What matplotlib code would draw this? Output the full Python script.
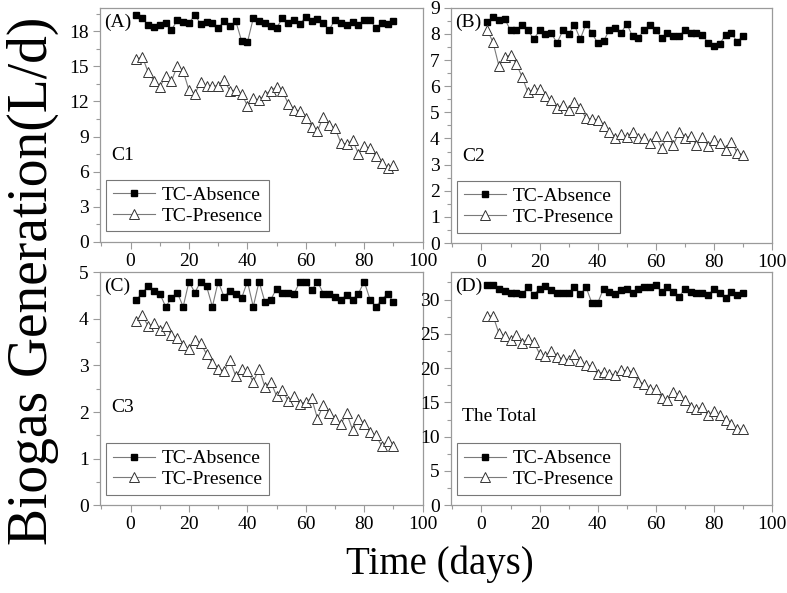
import matplotlib
matplotlib.use("Agg")
import matplotlib.pyplot as plt
from matplotlib.ticker import MultipleLocator

plt.rcParams['font.family'] = ['Liberation Serif', 'DejaVu Serif']
plt.rcParams['mathtext.fontset'] = 'stix'

days = list(range(2, 91, 2))

c1_absence = [19.38, 19.12, 18.52, 18.32, 18.52, 18.69, 18.11, 18.95, 18.8, 18.69,
              19.38, 18.6, 18.75, 18.69, 18.23, 18.9, 18.4, 18.87, 17.17, 17.05,
              19.09, 18.84, 18.66, 18.46, 18.29, 19.1, 18.69, 18.98, 18.6, 19.23,
              18.84, 19.04, 18.69, 18.11, 18.98, 18.69, 18.52, 18.75, 18.52, 18.98,
              18.98, 18.23, 18.69, 18.6, 18.84]
c1_presence = [15.59, 15.82, 14.5, 13.75, 13.24, 14.15, 13.75, 15.01, 14.58, 12.95,
               12.66, 13.64, 13.29, 13.29, 13.35, 13.81, 12.92, 12.95, 12.66, 11.63,
               12.29, 12.09, 12.58, 12.92, 13.24, 12.86, 11.8, 11.28, 11.2, 10.57,
               9.85, 9.47, 10.71, 9.97, 9.71, 8.47, 8.35, 8.7, 7.55, 8.18,
               7.98, 7.32, 6.74, 6.34, 6.55]

c2_absence = [8.44, 8.65, 8.54, 8.58, 8.13, 8.13, 8.33, 8.13, 7.8, 8.13,
              8.01, 8.03, 7.65, 8.13, 8.01, 8.33, 7.8, 8.39, 8.03, 7.65,
              7.71, 8.16, 8.22, 8.03, 8.39, 7.9, 7.84, 8.16, 8.33, 8.16,
              7.84, 8.03, 7.9, 7.9, 8.16, 8.03, 8.03, 7.97, 7.65, 7.52,
              7.61, 7.97, 8.03, 7.69, 7.93]
c2_presence = [8.16, 7.67, 6.78, 7.11, 7.2, 6.85, 6.35, 5.76, 5.89, 5.89,
               5.61, 5.48, 5.16, 5.29, 5.1, 5.41, 5.16, 4.78, 4.74, 4.71,
               4.46, 4.26, 4.01, 4.16, 4.07, 4.23, 4.01, 4.01, 3.82, 4.1,
               3.63, 4.1, 3.75, 4.23, 4.01, 4.1, 3.75, 4.05, 3.73, 3.95,
               3.82, 3.56, 3.88, 3.46, 3.37]

c3_absence = [4.41, 4.56, 4.7, 4.6, 4.54, 4.26, 4.44, 4.56, 4.26, 4.8,
              4.56, 4.8, 4.7, 4.26, 4.8, 4.47, 4.6, 4.54, 4.44, 4.8,
              4.26, 4.8, 4.36, 4.41, 4.65, 4.56, 4.56, 4.54, 4.8, 4.8,
              4.61, 4.8, 4.54, 4.53, 4.47, 4.41, 4.51, 4.41, 4.54, 4.8,
              4.41, 4.26, 4.41, 4.54, 4.36]
c3_presence = [3.96, 4.08, 3.84, 3.9, 3.77, 3.84, 3.65, 3.59, 3.43, 3.36,
               3.54, 3.48, 3.24, 3.05, 2.93, 2.88, 3.11, 2.77, 2.93, 2.88,
               2.65, 2.93, 2.54, 2.65, 2.34, 2.47, 2.23, 2.34, 2.17, 2.22,
               2.29, 1.86, 2.15, 1.98, 1.86, 1.74, 1.97, 1.62, 1.86, 1.74,
               1.57, 1.5, 1.27, 1.38, 1.27]

total_absence = [32.1, 32.1, 31.5, 31.3, 31.0, 31.0, 30.8, 31.8, 30.7, 31.6,
                 32.0, 31.4, 31.0, 31.0, 30.9, 31.9, 30.8, 31.8, 29.5, 29.5,
                 31.6, 31.1, 30.8, 31.4, 31.6, 31.0, 31.5, 31.8, 31.9, 32.1,
                 31.1, 31.9, 31.1, 30.4, 31.6, 31.1, 31.0, 31.0, 30.7, 31.5,
                 31.0, 30.3, 31.1, 30.7, 31.0]
total_presence = [27.6, 27.6, 25.1, 24.7, 24.1, 24.8, 23.7, 24.3, 23.8, 22.1,
                  21.8, 22.5, 21.6, 21.4, 21.2, 22.1, 21.1, 20.4, 20.3, 19.1,
                  19.5, 19.2, 19.0, 19.7, 19.6, 19.5, 18.0, 17.7, 17.0, 16.9,
                  15.7, 15.3, 16.5, 16.1, 15.4, 14.3, 14.0, 14.3, 13.1, 13.8,
                  13.1, 12.4, 11.8, 11.1, 11.1]

panels = [
    dict(tag='(A)', name='C1', ab=c1_absence, pr=c1_presence, ylim=20, major=3, minor=1.5,
         rect=[0.127, 0.592, 0.410, 0.395], name_y=0.37),
    dict(tag='(B)', name='C2', ab=c2_absence, pr=c2_presence, ylim=9, major=1, minor=0.5,
         rect=[0.573, 0.590, 0.408, 0.397], name_y=0.37),
    dict(tag='(C)', name='C3', ab=c3_absence, pr=c3_presence, ylim=5, major=1, minor=0.5,
         rect=[0.127, 0.148, 0.410, 0.393], name_y=0.42),
    dict(tag='(D)', name='The Total', ab=total_absence, pr=total_presence, ylim=34, major=5, minor=2.5,
         rect=[0.573, 0.148, 0.408, 0.393], name_y=0.38),
]

fig = plt.figure(figsize=(7.87, 5.93), dpi=100)
spine_col = '#9a9a9a'

for p in panels:
    ax = fig.add_axes(p['rect'])
    ax.plot(days, p['ab'], color='#7a7a7a', lw=0.8, marker='s', ms=4.5,
            mfc='black', mec='black', label='TC-Absence')
    ax.plot(days, p['pr'], color='#7a7a7a', lw=0.8, marker='^', ms=6.5,
            mfc='white', mec='#333333', mew=0.7, label='TC-Presence')
    ax.set_xlim(-10.5, 100)
    ax.set_ylim(0, p['ylim'])
    ax.xaxis.set_major_locator(MultipleLocator(20))
    ax.xaxis.set_minor_locator(MultipleLocator(10))
    ax.yaxis.set_major_locator(MultipleLocator(p['major']))
    ax.yaxis.set_minor_locator(MultipleLocator(p['minor']))
    ax.tick_params(which='both', direction='out', color=spine_col, labelsize=14,
                   top=False, right=False)
    ax.tick_params(which='major', length=5, width=0.8, pad=3)
    ax.tick_params(which='minor', length=3, width=0.8)
    for s in ax.spines.values():
        s.set_color(spine_col)
        s.set_linewidth(0.9)
    ax.text(0.012, 0.975, p['tag'], transform=ax.transAxes, fontsize=14,
            ha='left', va='top')
    ax.text(0.035, p['name_y'], p['name'], transform=ax.transAxes, fontsize=14,
            ha='left', va='center')
    leg = ax.legend(loc='lower left', bbox_to_anchor=(0.0, 0.02), fontsize=14,
                    frameon=True, fancybox=False, edgecolor='#555555',
                    handlelength=2.2, handletextpad=0.3, labelspacing=0.15,
                    borderpad=0.35, borderaxespad=0.3)
    leg.get_frame().set_linewidth(0.8)

fig.text(0.042, 0.527, 'Biogas Generation(L/d)', rotation=90, fontsize=40,
         ha='center', va='center')
fig.text(0.559, 0.048, 'Time (days)', fontsize=28, ha='center', va='center')

fig.savefig('out.png', dpi=100)
